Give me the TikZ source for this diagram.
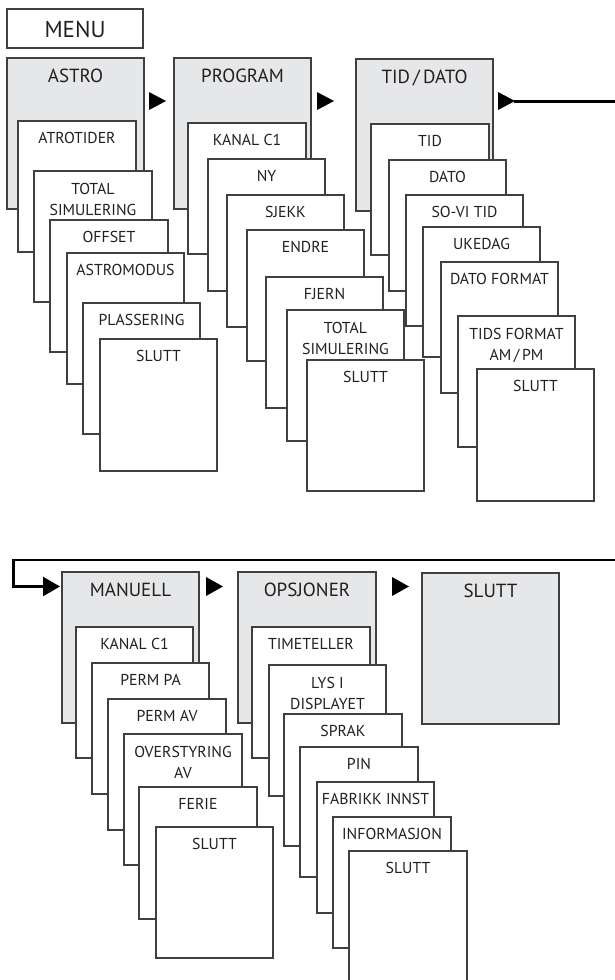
\documentclass[tikz,border=0pt]{standalone}
\usepackage{fontspec}
\setmainfont{PT Sans}
\usetikzlibrary{calc,arrows.meta}
\definecolor{hdrgray}{HTML}{E6E7E8}
\definecolor{edgecol}{HTML}{404040}
\definecolor{ink}{HTML}{231F20}
\tikzset{
  boxbase/.style={draw=edgecol, line width=1.1pt, outer sep=0pt, inner sep=0pt, anchor=north west},
  hdrbox/.style={boxbase, fill=hdrgray},
  itembox/.style={boxbase, fill=white},
  itemtext/.style={text=ink, font=\fontsize{15.8}{21}\selectfont, align=center, inner sep=0pt, anchor=base},
  hdrtext/.style={text=ink, font=\fontsize{19}{22}\selectfont, inner sep=0pt, anchor=base},
  menutext/.style={text=ink, font=\fontsize{23}{26}\selectfont, inner sep=0pt, anchor=base},
  navtri/.style={fill=black},
  flowline/.style={draw=black, line width=2.4pt}
}
% item box (one line of text): name, x1, y1, x2, y2, text
\newcommand{\itm}[6]{%
  \node[itembox, minimum width={#4-#2}, minimum height={#5-#3}] (#1) at (#2,#3) {};
  \node[itemtext] (#1t) at ($(#1.north)+(0,22.5)$) {#6};}
% item box (two lines of text): base anchor is on the last line
\newcommand{\itmtwo}[6]{%
  \node[itembox, minimum width={#4-#2}, minimum height={#5-#3}] (#1) at (#2,#3) {};
  \node[itemtext] (#1t) at ($(#1.north)+(0,44)$) {#6};}
% header box: name, x1, y1, x2, y2, text
\newcommand{\hdr}[6]{%
  \node[hdrbox, minimum width={#4-#2}, minimum height={#5-#3}] (#1) at (#2,#3) {};
  \node[hdrtext] (#1t) at ($(#1.north)+(0,24.5)$) {#6};}
\begin{document}
\begin{tikzpicture}[x=1pt,y=-1pt]
\useasboundingbox (0,0) rectangle (615,980);
\clip (0,0) rectangle (615,980);

% MENU
\node[itembox, minimum width=136, minimum height=39] (menu) at (7,9) {};
\node[menutext] (menut) at ($(menu.north)+(0,28)$) {MENU};

% Column 1: ASTRO
\hdr{astro}{7}{58}{144}{209}{ASTRO}
\itm{a1}{18}{121}{136}{252}{ATROTIDER}
\itmtwo{a2}{34}{171}{152}{302}{TOTAL\\SIMULERING}
\itm{a3}{50}{220}{168}{352}{OFFSET}
\itm{a4}{67}{253}{184}{384}{ASTROMODUS}
\itm{a5}{83}{303}{200}{434}{PLASSERING}
\itm{a6}{100}{339}{217}{471}{SLUTT}

% Column 2: PROGRAM
\hdr{prog}{174}{58}{311}{209}{PROGRAM}
\itm{p1}{188}{123}{306}{254}{KANAL C1}
\itm{p2}{208}{159}{325}{291}{NY}
\itm{p3}{227}{195}{344}{327}{SJEKK}
\itm{p4}{247}{230}{364}{361}{ENDRE}
\itm{p5}{266}{277}{383}{408}{FJERN}
\itmtwo{p6}{287}{310}{404}{441}{TOTAL\\SIMULERING}
\itm{p7}{307}{360}{424}{491}{SLUTT}

% Column 3: TID/DATO
\hdr{tid}{356}{59}{493}{211}{TID\,/\,DATO}
\itm{d1}{371}{124}{489}{255}{TID}
\itm{d2}{389}{160}{506}{291}{DATO}
\itm{d3}{406}{195}{523}{326}{SO-VI TID}
\itm{d4}{423}{227}{540}{357}{UKEDAG}
\itm{d5}{441}{262}{558}{393}{DATO FORMAT}
\itmtwo{d6}{458}{316}{575}{447}{TIDS FORMAT\\AM\,/\,PM}
\itm{d7}{477}{369}{594}{501}{SLUTT}

% Column 4: MANUELL
\hdr{man}{62}{572}{199}{723}{MANUELL}
\itm{m1}{76}{627}{193}{758}{KANAL C1}
\itm{m2}{92}{663}{209}{794}{PERM PA}
\itm{m3}{108}{699}{226}{830}{PERM AV}
\itmtwo{m4}{124}{734}{242}{865}{OVERSTYRING\\AV}
\itm{m5}{139}{787}{257}{919}{FERIE}
\itm{m6}{156}{827}{273}{958}{SLUTT}

% Column 5: OPSJONER
\hdr{ops}{238}{572}{376}{723}{OPSJONER}
\itm{o1}{252}{627}{370}{758}{TIMETELLER}
\itmtwo{o2}{269}{665}{386}{796}{LYS I\\DISPLAYET}
\itm{o3}{284}{714}{402}{846}{SPRAK}
\itm{o4}{300}{747}{418}{877}{PIN}
\itm{o5}{317}{782}{434}{913}{FABRIKK INNST}
\itm{o6}{333}{817}{451}{948}{INFORMASJON}
\itm{o7}{349}{851}{467}{984}{SLUTT}

% Column 6: SLUTT
\hdr{slutt}{422}{573}{559}{724}{SLUTT}

% navigation triangles
\fill[navtri] (149,92) -- (166,101) -- (149,110) -- cycle;
\fill[navtri] (317,92) -- (334,101) -- (317,110) -- cycle;
\fill[navtri] (498,92) -- (515,101) -- (498,110) -- cycle;
\fill[navtri] (206,577) -- (223,586.5) -- (206,596) -- cycle;
\fill[navtri] (392,577) -- (409,586.5) -- (392,596) -- cycle;

% flow line out of TID/DATO and back into MANUELL
\coordinate (tidTip) at (514,101.5);
\coordinate (outR) at (616,101.5);
\draw[flowline] (tidTip) -- (outR);
\coordinate (inR) at (616,560);
\coordinate (inL) at (13.5,560);
\coordinate (manIn) at (60,586.5);
\draw[flowline, line join=miter, -{Triangle[length=17pt,width=19pt]}] (inR) -- (inL) |- (manIn);
\end{tikzpicture}
\end{document}
